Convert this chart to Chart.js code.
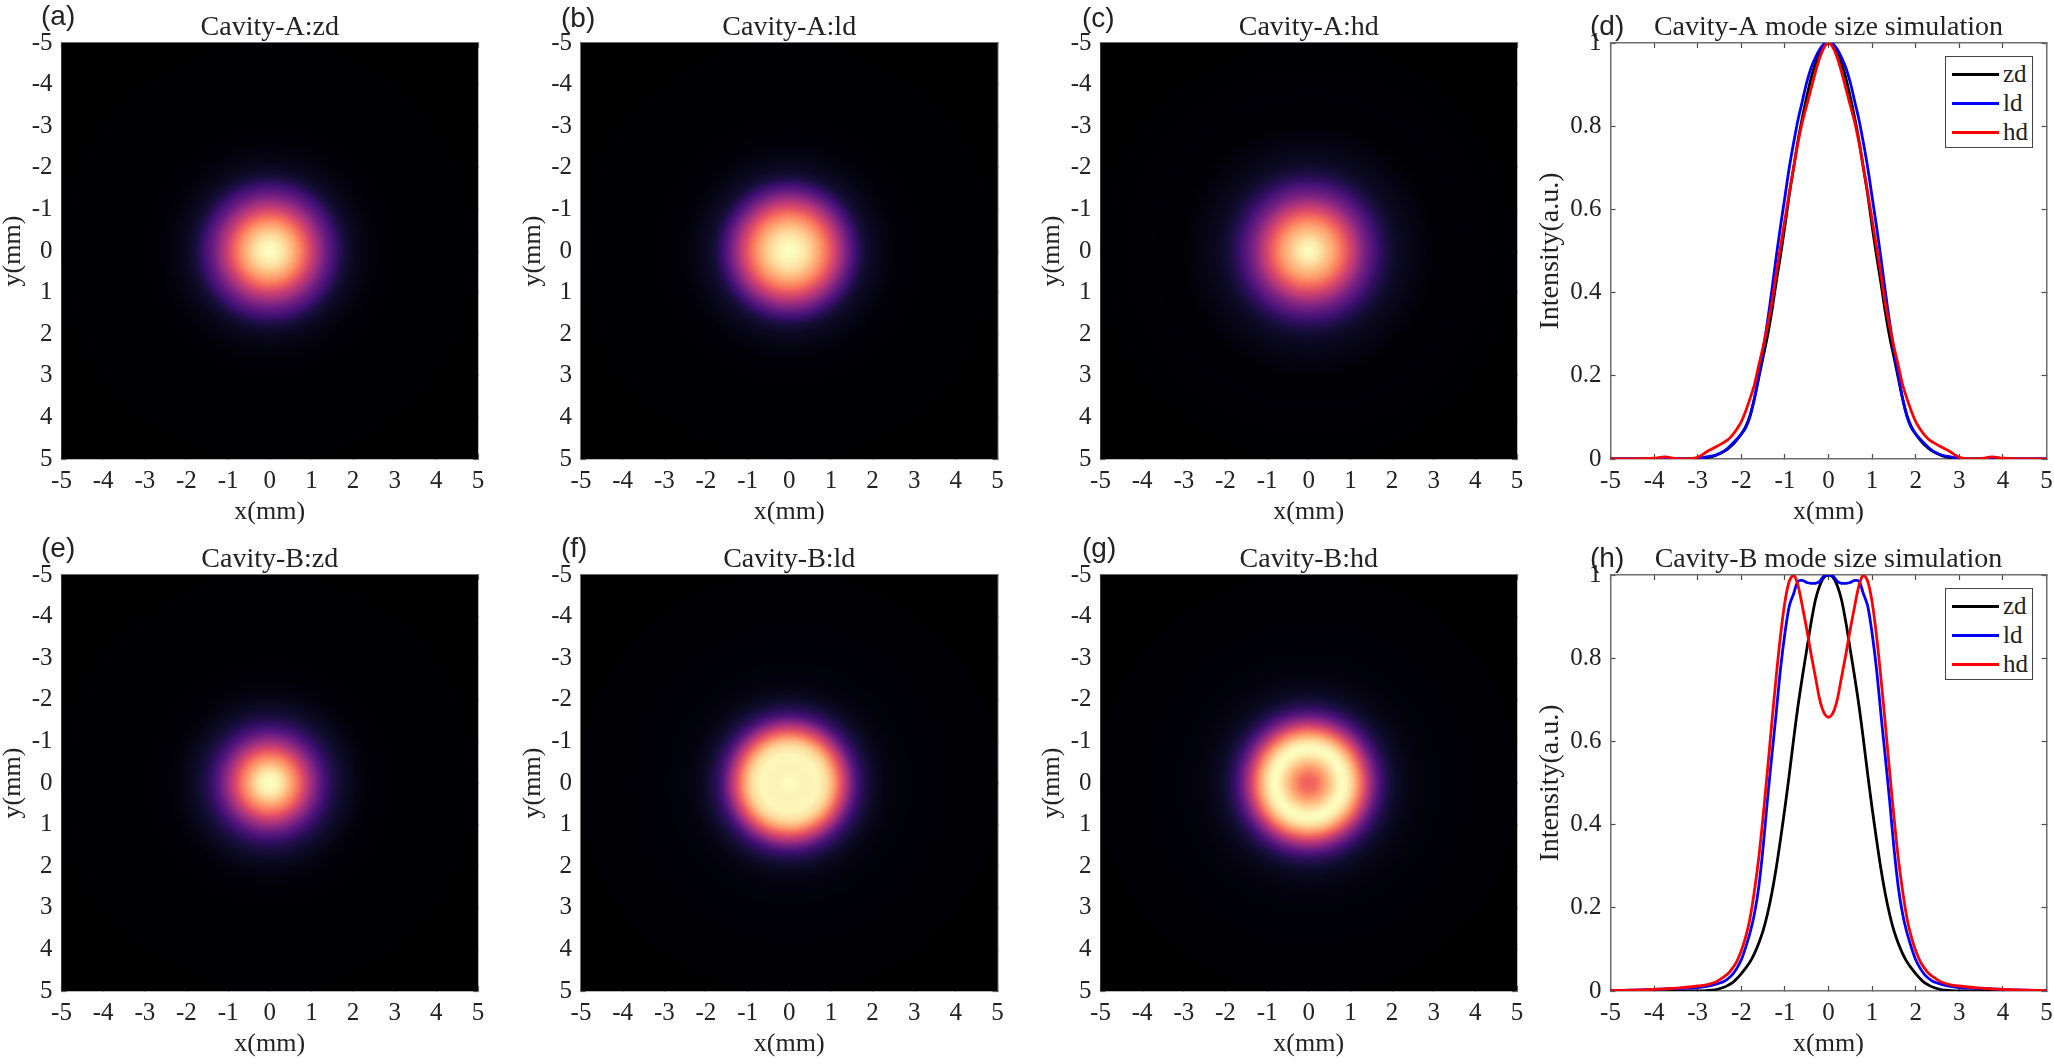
<!DOCTYPE html>
<html>
<head>
<meta charset="utf-8">
<title>Cavity mode size simulation</title>
<script src="https://cdn.jsdelivr.net/npm/chart.js@4"></script>
<style>
    html, body { margin: 0; padding: 0; background: #fff; width: 2054px; height: 1064px; overflow: hidden; }
    canvas { position: absolute; }
    .panel_label { position: absolute; font: 28px "Liberation Sans", sans-serif; color: #222; line-height: 32px; }
    .legend { position: absolute; box-sizing: border-box; width: 88px; height: 92px; background: #fff; border: 1.5px solid #444; }
    .legend_row { position: absolute; left: 6px; height: 28px; width: 82px; font: 25px/28px "Liberation Serif", serif; color: #222; }
    .legend_line { position: absolute; left: 0; top: 13px; width: 47px; height: 3px; }
    .legend_text { position: absolute; left: 51px; top: 0; }
</style>
</head>
<body>
<script>
// radial position of the samples, mm (the profiles are symmetric about 0)
const radiusMm = [0, 0.1, 0.2, 0.3, 0.4, 0.5, 0.6, 0.7, 0.8, 0.9, 1, 1.1, 1.2, 1.3, 1.4, 1.5, 1.6, 1.7, 1.8, 1.9, 2, 2.1, 2.2, 2.3, 2.4, 2.6, 2.8, 3, 3.25, 3.5, 3.75, 4, 4.5, 5];

// Cavity-A intensity profiles
const zdA = [1, 0.995, 0.98, 0.95, 0.915, 0.87, 0.82, 0.765, 0.7, 0.635, 0.56, 0.49, 0.425, 0.355, 0.295, 0.245, 0.195, 0.145, 0.105, 0.078, 0.06, 0.046, 0.034, 0.025, 0.018, 0.008, 0.003, 0, 0, 0, 0, 0, 0, 0];
const ldA = [1, 0.998, 0.985, 0.965, 0.94, 0.905, 0.86, 0.815, 0.76, 0.7, 0.63, 0.56, 0.485, 0.405, 0.33, 0.262, 0.2, 0.145, 0.102, 0.075, 0.06, 0.048, 0.037, 0.027, 0.019, 0.009, 0.005, 0.001, 0, 0, 0, 0, 0, 0];
const hdA = [1, 0.99, 0.965, 0.93, 0.89, 0.85, 0.81, 0.76, 0.7, 0.64, 0.575, 0.51, 0.445, 0.375, 0.32, 0.27, 0.225, 0.178, 0.145, 0.115, 0.09, 0.072, 0.058, 0.047, 0.04, 0.028, 0.017, 0.004, 0, 0.001, 0.005, 0.002, 0, 0];

// Cavity-B intensity profiles
const zdB = [1, 0.995, 0.975, 0.94, 0.885, 0.82, 0.755, 0.685, 0.605, 0.52, 0.44, 0.365, 0.295, 0.235, 0.185, 0.145, 0.115, 0.09, 0.07, 0.055, 0.042, 0.03, 0.02, 0.014, 0.009, 0.003, 0.001, 0, 0, 0, 0, 0, 0, 0];
const ldB = [1, 0.998, 0.985, 0.98, 0.98, 0.982, 0.987, 0.985, 0.955, 0.925, 0.86, 0.775, 0.668, 0.565, 0.46, 0.345, 0.25, 0.185, 0.14, 0.105, 0.075, 0.055, 0.04, 0.03, 0.023, 0.016, 0.011, 0.008, 0.007, 0.006, 0.005, 0.004, 0.002, 0.001];
const hdB = [0.658, 0.668, 0.7, 0.755, 0.81, 0.87, 0.925, 0.975, 1, 0.985, 0.935, 0.855, 0.755, 0.645, 0.53, 0.42, 0.32, 0.24, 0.175, 0.13, 0.097, 0.072, 0.055, 0.042, 0.034, 0.021, 0.015, 0.012, 0.009, 0.007, 0.005, 0.004, 0.002, 0.001];

const mmTicks = [-5, -4, -3, -2, -1, 0, 1, 2, 3, 4, 5];
const intensityTicks = [0, 0.2, 0.4, 0.6, 0.8, 1];

const seriesNames = ['zd', 'ld', 'hd'];
const seriesColors = ['#000000', '#0000ff', '#ff0000'];

const heatTitles = ['Cavity-A:zd', 'Cavity-A:ld', 'Cavity-A:hd', 'Cavity-B:zd', 'Cavity-B:ld', 'Cavity-B:hd'];
const heatLabels = ['(a)', '(b)', '(c)', '(e)', '(f)', '(g)'];
const heatProfiles = [zdA, ldA, hdA, zdB, ldB, hdB];

// magma colormap, evenly spaced from 0 to 1
const magma = [[0, 0, 4], [20, 14, 54], [59, 15, 112], [100, 26, 128], [140, 41, 129], [183, 55, 121], [222, 73, 104], [247, 112, 92], [254, 159, 109], [254, 207, 146], [252, 253, 191]];

const textFont = '"Liberation Serif", serif';
const textColor = '#222';

// pixel boxes of the plot areas
const colLeft = [61.5, 581, 1100.5];
const rowTop = [43, 575];
const plotW = 416.5;
const plotH = 416;
const lineLeft = 1610.5;
const lineW = 436;


function magmaColor(value) {
    let pos = Math.min(Math.max(value, 0), 1) * (magma.length - 1);
    let i = Math.min(Math.floor(pos), magma.length - 2);
    let t = pos - i;
    let rgb = [0, 1, 2].map(function (k) { return Math.round(magma[i][k] + (magma[i + 1][k] - magma[i][k]) * t); });
    return 'rgb(' + rgb.join(',') + ')';
}

function addCanvas(left, top, width, height) {
    let canvas = document.createElement('canvas');
    canvas.width = width;
    canvas.height = height;
    canvas.style.left = left + 'px';
    canvas.style.top = top + 'px';
    canvas.style.width = width + 'px';
    canvas.style.height = height + 'px';
    document.body.appendChild(canvas);
    return canvas;
}

function addLabel(text, left, top) {
    let div = document.createElement('div');
    div.className = 'panel_label';
    div.textContent = text;
    div.style.left = left + 'px';
    div.style.top = top + 'px';
    document.body.appendChild(div);
}

function addLegend(left, top) {
    let box = document.createElement('div');
    box.className = 'legend';
    box.style.left = left + 'px';
    box.style.top = top + 'px';
    seriesNames.forEach(function (name, i) {
        box.innerHTML += '<div class="legend_row" style="top:' + (2.5 + i * 29) + 'px">' +
            '<span class="legend_line" style="background:' + seriesColors[i] + '"></span>' +
            '<span class="legend_text">' + name + '</span></div>';
    });
    document.body.appendChild(box);
}

function buildScales(xTitle, yTitle, yTicks, yMin, yMax, reverse, yWidth, yTitleSize) {
    let mark = { drawOnChartArea: false, drawTicks: true, tickLength: -5, tickWidth: 1.2, tickColor: '#4a4a4a' };
    let frame = { display: true, color: '#6e6e6e', width: 1.5 };
    let setTicks = function (list) {
        return function (axis) { axis.ticks = list.map(function (v) { return { value: v }; }); };
    };
    // fixed axis box, and no extra room for the end labels: they overhang like in the picture
    let fixBox = function (axis, width, height) {
        if (width !== null) axis.width = width;
        if (height !== null) axis.height = height;
        axis.paddingLeft = axis.paddingRight = axis.paddingTop = axis.paddingBottom = 0;
    };
    let font = { family: textFont, size: 25 };
    let plainNumber = function (value) { return String(value); };
    return {
        x: {
            type: 'linear', position: 'bottom', min: -5, max: 5,
            afterBuildTicks: setTicks(mmTicks),
            afterFit: function (axis) { fixBox(axis, null, 70); },
            grid: mark, border: frame,
            ticks: { font: font, color: textColor, padding: 12, maxRotation: 0, autoSkip: false, callback: plainNumber },
            title: { display: true, text: xTitle, color: textColor, padding: { top: 0, bottom: 1 }, font: { family: textFont, size: 26 } }
        },
        y: {
            type: 'linear', position: 'left', min: yMin, max: yMax, reverse: reverse,
            afterBuildTicks: setTicks(yTicks),
            afterFit: function (axis) { fixBox(axis, yWidth, null); },
            grid: mark, border: frame,
            ticks: { font: font, color: textColor, padding: 14, autoSkip: false, callback: plainNumber },
            title: { display: true, text: yTitle, color: textColor, padding: 0, font: { family: textFont, size: yTitleSize } }
        },
        xTop: {
            type: 'linear', position: 'top', min: -5, max: 5,
            afterBuildTicks: setTicks(mmTicks),
            afterFit: function (axis) { fixBox(axis, null, 0); },
            grid: mark, border: frame, ticks: { display: false }
        },
        yRight: {
            type: 'linear', position: 'right', min: yMin, max: yMax, reverse: reverse,
            afterBuildTicks: setTicks(yTicks),
            afterFit: function (axis) { fixBox(axis, 0, null); },
            grid: mark, border: frame, ticks: { display: false }
        }
    };
}

function titleOptions(text) {
    return {
        display: true, text: text, fullSize: false, color: textColor,
        font: { family: textFont, size: 28, weight: 'normal', lineHeight: 1.25 },
        padding: { top: 3, bottom: -2 }
    };
}

// black plot background behind the beam
const blackArea = {
    id: 'blackArea',
    beforeDatasetsDraw: function (chart) {
        let area = chart.chartArea;
        chart.ctx.save();
        chart.ctx.fillStyle = '#000';
        chart.ctx.fillRect(area.left, area.top, area.width, area.height);
        chart.ctx.restore();
    }
};

function radialFill(chart, profile) {
    let x = chart.scales.x;
    let y = chart.scales.y;
    let cx = x.getPixelForValue(0);
    let cy = y.getPixelForValue(0);
    let last = radiusMm[radiusMm.length - 1];
    let outer = x.getPixelForValue(last) - cx;
    // scales are not laid out yet on the first pass of the controller
    if (!isFinite(cx) || !isFinite(cy) || !isFinite(outer)) {
        return '#000';
    }
    let gradient = chart.ctx.createRadialGradient(cx, cy, 0, cx, cy, outer);
    radiusMm.forEach(function (r, i) {
        gradient.addColorStop(r / last, magmaColor(profile[i]));
    });
    return gradient;
}

function drawHeat(index) {
    let col = index % 3;
    let row = Math.floor(index / 3);
    let canvasLeft = Math.floor(colLeft[col] - 63);
    let yWidth = colLeft[col] - canvasLeft;
    let width = Math.ceil(yWidth + plotW + 14);
    let canvas = addCanvas(canvasLeft, rowTop[row] - 36, width, 36 + plotH + 70);
    let profile = heatProfiles[index];
    let rings = radiusMm.map(function () { return { x: 0, y: 0 }; });

    new Chart(canvas.getContext('2d'), {
        type: 'scatter',
        data: { datasets: [{
            data: rings,
            pointBorderWidth: 0,
            pointRadius: function (c) {
                let x = c.chart.scales.x;
                let radius = x.getPixelForValue(radiusMm[c.dataIndex]) - x.getPixelForValue(0);
                return isFinite(radius) ? radius : 0;
            },
            pointBackgroundColor: function (c) { return radialFill(c.chart, profile); }
        }] },
        options: {
            responsive: false, animation: false, devicePixelRatio: 1,
            layout: { autoPadding: false, padding: { right: width - yWidth - plotW } },
            plugins: { legend: { display: false }, tooltip: { enabled: false }, title: titleOptions(heatTitles[index]) },
            scales: buildScales('x(mm)', 'y(mm)', mmTicks, -5, 5, true, yWidth, 26)
        },
        plugins: [blackArea]
    });
}

function mirrored(profile) {
    let left = [];
    for (let i = radiusMm.length - 1; i > 0; --i) {
        left.push({ x: -radiusMm[i], y: profile[i] });
    }
    let right = radiusMm.map(function (r, i) { return { x: r, y: profile[i] }; });
    return left.concat(right);
}

function drawProfile(row, title, profiles) {
    let canvasLeft = Math.floor(lineLeft - 76);
    let yWidth = lineLeft - canvasLeft;
    let width = 2054 - canvasLeft;
    let canvas = addCanvas(canvasLeft, rowTop[row] - 36, width, 36 + plotH + 70);
    let datasets = profiles.map(function (profile, i) {
        return {
            label: seriesNames[i],
            data: mirrored(profile),
            showLine: true,
            borderColor: seriesColors[i],
            borderWidth: 2.8,
            pointRadius: 0,
            tension: 0.3,
            order: profiles.length - i
        };
    });

    new Chart(canvas.getContext('2d'), {
        type: 'scatter',
        data: { datasets: datasets },
        options: {
            responsive: false, animation: false, devicePixelRatio: 1,
            layout: { autoPadding: false, padding: { right: width - yWidth - lineW } },
            plugins: { legend: { display: false }, tooltip: { enabled: false }, title: titleOptions(title) },
            scales: buildScales('x(mm)', 'Intensity(a.u.)', intensityTicks, 0, 1, false, yWidth, 28)
        }
    });
}


window.addEventListener('load', function () {
    for (let i = 0; i < heatTitles.length; ++i) {
        drawHeat(i);
    }
    drawProfile(0, 'Cavity-A mode size simulation', [zdA, ldA, hdA]);
    drawProfile(1, 'Cavity-B mode size simulation', [zdB, ldB, hdB]);

    addLegend(1945, 56);
    addLegend(1945, 588);

    heatLabels.forEach(function (text, i) {
        let top = i < 3 ? (i === 0 ? 0 : 2) : 532;
        addLabel(text, [41, 561, 1082][i % 3], top);
    });
    addLabel('(d)', 1590, 10);
    addLabel('(h)', 1590, 542);
});
</script>
</body>
</html>
